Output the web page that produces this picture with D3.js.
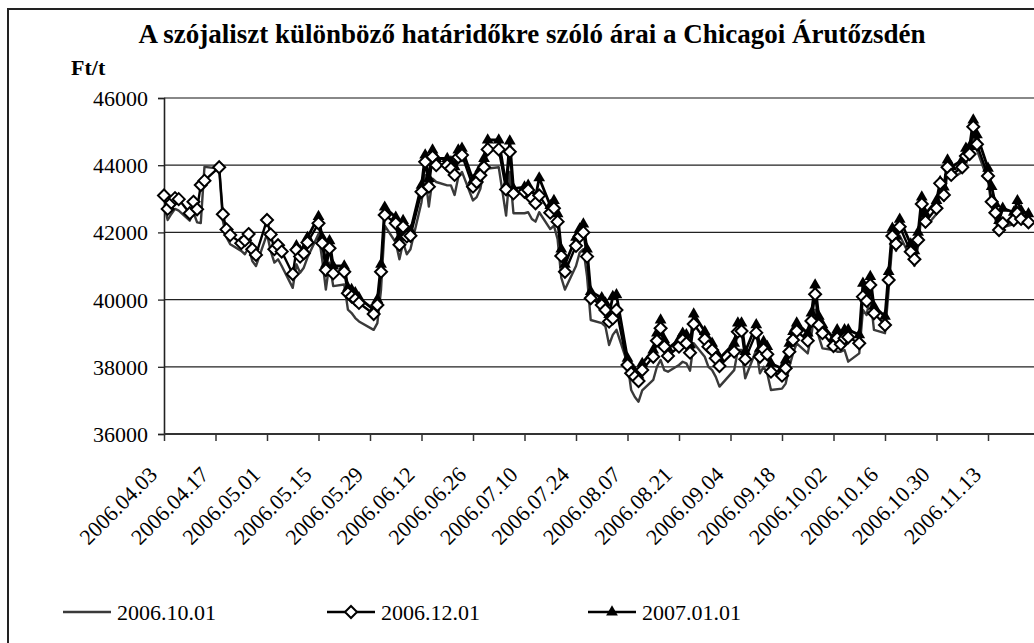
<!DOCTYPE html>
<html><head><meta charset="utf-8">
<script src="https://cdn.jsdelivr.net/npm/d3@7"></script>
<style>body{margin:0;background:#fff}svg{display:block}text{font-family:"Liberation Serif","Times New Roman",serif}</style>
</head><body><svg id="c" width="1034" height="643"></svg>
<script>
const dates = [
"2006-04-03","2006-04-04","2006-04-05","2006-04-06","2006-04-07",
"2006-04-10","2006-04-11","2006-04-12","2006-04-13","2006-04-14",
"2006-04-18","2006-04-19","2006-04-20","2006-04-21",
"2006-04-24","2006-04-25","2006-04-26","2006-04-27","2006-04-28",
"2006-05-01","2006-05-02","2006-05-03","2006-05-04","2006-05-05",
"2006-05-08","2006-05-09","2006-05-10","2006-05-11","2006-05-12",
"2006-05-15","2006-05-16","2006-05-17","2006-05-18","2006-05-19",
"2006-05-22","2006-05-23","2006-05-24","2006-05-25","2006-05-26",
"2006-05-30","2006-05-31","2006-06-01","2006-06-02",
"2006-06-05","2006-06-06","2006-06-07","2006-06-08","2006-06-09",
"2006-06-12","2006-06-13","2006-06-14","2006-06-15","2006-06-16",
"2006-06-19","2006-06-20","2006-06-21","2006-06-22","2006-06-23",
"2006-06-26","2006-06-27","2006-06-28","2006-06-29","2006-06-30",
"2006-07-03","2006-07-05","2006-07-06","2006-07-07",
"2006-07-10","2006-07-11","2006-07-12","2006-07-13","2006-07-14",
"2006-07-17","2006-07-18","2006-07-19","2006-07-20","2006-07-21",
"2006-07-24","2006-07-25","2006-07-26","2006-07-27","2006-07-28",
"2006-07-31","2006-08-01","2006-08-02","2006-08-03","2006-08-04",
"2006-08-07","2006-08-08","2006-08-09","2006-08-10","2006-08-11",
"2006-08-14","2006-08-15","2006-08-16","2006-08-17","2006-08-18",
"2006-08-21","2006-08-22","2006-08-23","2006-08-24","2006-08-25",
"2006-08-28","2006-08-29","2006-08-30","2006-08-31","2006-09-01",
"2006-09-05","2006-09-06","2006-09-07","2006-09-08",
"2006-09-11","2006-09-12","2006-09-13","2006-09-14","2006-09-15",
"2006-09-18","2006-09-19","2006-09-20","2006-09-21","2006-09-22",
"2006-09-25","2006-09-26","2006-09-27","2006-09-28","2006-09-29",
"2006-10-02","2006-10-03","2006-10-04","2006-10-05","2006-10-06",
"2006-10-09","2006-10-10","2006-10-11","2006-10-12","2006-10-13",
"2006-10-16","2006-10-17","2006-10-18","2006-10-19","2006-10-20",
"2006-10-23","2006-10-24","2006-10-25","2006-10-26","2006-10-27",
"2006-10-30","2006-10-31","2006-11-01","2006-11-02","2006-11-03",
"2006-11-06","2006-11-07","2006-11-08","2006-11-09","2006-11-10",
"2006-11-13","2006-11-14","2006-11-15","2006-11-16","2006-11-17",
"2006-11-20","2006-11-21","2006-11-22","2006-11-24"
];
const oct = [
42800,42370,42550,42700,42650,
42350,42600,42300,42280,43950,
43900,42350,41850,41650,
41450,41350,41550,41150,41000,
41950,41450,41100,41200,41000,
40350,41050,40800,40950,41250,
41950,41200,40300,41100,40400,
40450,39700,39600,39450,39350,
39100,39300,40300,42200,
41700,41200,41700,41350,41500,
42900,43700,42770,43600,43500,
43400,43400,43113,43650,43800,
42950,43050,43300,43900,43900,
43938,42500,43800,42570,
42570,42600,42400,42320,42600,
42100,42200,41800,40650,40300,
41000,41400,41500,40700,39393,
39300,39200,38650,38950,39100,
38105,37310,37100,36962,37300,
37608,38000,38203,37900,37855,
38054,38150,38105,37884,38700,
38300,38000,37900,37700,37410,
37900,38500,38500,37658,
38500,37807,38000,37800,37310,
37350,37500,38000,38400,38700,
38400,38950,39700,38900,38550,
38500,38450,38450,38500,38153,
38400,39690,39540,40100,39100,
39000,40300,41700,41450,41900,
41250,41000,41600,42600,42150,
42550,43300,42950,43800,43600,
43800,44150,44200,44950,44450,
43550,42750,42400,41950,42150,
42250,42450,42300,42200
];
const dec = [
43100,42700,42880,43020,42990,
42570,42910,42690,43410,43540,
43940,42540,42090,41920,
41680,41770,41950,41500,41330,
42370,41940,41500,41620,41430,
40760,41480,41280,41380,41700,
42270,41680,40880,41530,40780,
40830,40190,40090,40010,39900,
39570,39840,40830,42520,
42270,41630,42170,41880,41900,
43210,44100,43360,44250,44000,
44000,43900,43710,44235,44300,
43360,43500,43700,43940,44470,
44470,43280,44400,43160,
43210,43260,43015,42866,43100,
42586,42717,42320,41300,40830,
41600,41880,42000,41280,40040,
39840,39690,39345,39440,39690,
38054,37807,37700,37578,37905,
38300,38777,39145,38600,38322,
38600,38800,38700,38420,39273,
38820,38600,38500,38253,38024,
38450,39045,39065,38223,
39016,38300,38520,38372,37855,
37736,37956,38450,38800,39065,
38777,39364,40158,39245,39000,
38620,38850,38670,38850,38878,
38700,40088,39960,40435,39593,
39245,40584,41893,41655,42170,
41426,41200,41774,42845,42320,
42717,43460,43113,43938,43710,
43938,44274,44333,45146,44622,
43679,42914,42586,42072,42270,
42370,42570,42400,42300
];
const jan = [
null,null,null,null,null,
null,null,null,null,null,
null,null,null,null,
null,null,null,null,null,
null,null,null,null,null,
null,41600,41450,41500,41850,
42470,41850,41050,41750,41000,
41000,40350,40300,40200,40050,
39700,40000,41050,42750,
42450,41850,42350,42050,42050,
43400,44300,43600,44450,44200,
44200,44100,43950,44450,44500,
43550,43700,43900,44200,44750,
44750,43400,44720,43300,
43350,43400,43150,43050,43620,
42800,42950,42550,41500,41050,
41850,42100,42250,41500,40240,
40050,39900,39550,40088,40140,
38250,38000,37850,37750,38100,
38500,39000,39393,38800,38550,
38800,39000,38950,38650,39572,
39050,38800,38700,38450,38250,
38700,39300,39300,38450,
39250,38550,38750,38600,38100,
37950,38200,38700,39050,39300,
39000,39600,40435,39500,39250,
38850,39100,38900,39100,39100,
38950,40485,40200,40683,39800,
39500,40830,42122,41900,42390,
41650,41450,42000,43050,42550,
42950,43510,43350,44150,43950,
44150,44500,44550,45345,44900,
43908,43360,42850,42350,42717,
42600,42944,42650,42550
];
const yTicks = [36000,38000,40000,42000,44000,46000];
const xTickDates = ["2006-04-03","2006-04-17","2006-05-01","2006-05-15","2006-05-29","2006-06-12","2006-06-26","2006-07-10","2006-07-24","2006-08-07","2006-08-21","2006-09-04","2006-09-18","2006-10-02","2006-10-16","2006-10-30","2006-11-13"];
const seriesNames = ["2006.10.01","2006.12.01","2007.01.01"];
const titleText = "A szójaliszt különböző határidőkre szóló árai a Chicagoi Árutőzsdén";
const unitText = "Ft/t";

const parse = d3.timeParse("%Y-%m-%d");
const fmt = d3.timeFormat("%Y.%m.%d");
const svg = d3.select("#c");
svg.append("rect").attr("width",1034).attr("height",643).attr("fill","#fff");
svg.append("rect").attr("x",8).attr("y",9).attr("width",1100).attr("height",700)
  .attr("fill","none").attr("stroke","#222").attr("stroke-width",2);

const x = d3.scaleTime().domain([parse("2006-04-03"), parse("2006-11-13")]).range([164, 988]);
const y = d3.scaleLinear().domain([36000, 46000]).range([434, 98]);

svg.append("g").selectAll("line").data(yTicks).join("line")
  .attr("x1",164).attr("x2",1040).attr("y1",d=>y(d)).attr("y2",d=>y(d))
  .attr("stroke",d=>d===46000?"#888":"#222").attr("stroke-width",d=>d===46000?2.2:1.3);

const ya = svg.append("g").attr("transform","translate(164,0)")
  .call(d3.axisLeft(y).tickValues(yTicks).tickSize(6).tickPadding(10).tickFormat(d3.format("d")));
ya.attr("font-family",null);
ya.select(".domain").attr("stroke","#222").attr("stroke-width",1.6);
ya.selectAll(".tick line").attr("stroke","#222").attr("stroke-width",1.3);
ya.selectAll("text").attr("font-size",22).attr("fill","#000").attr("dy","0.34em");

const xa = svg.append("g").attr("transform","translate(0,434)")
  .call(d3.axisBottom(x).tickValues(xTickDates.map(parse)).tickSize(7).tickFormat(fmt));
xa.attr("font-family",null);
xa.select(".domain").attr("stroke","#333").attr("stroke-width",2.2).attr("d","M164,0H1040");
xa.selectAll(".tick line").attr("stroke","#333").attr("stroke-width",1.5);
xa.selectAll("text").attr("font-size",22).attr("fill","#000")
  .attr("text-anchor","end").attr("dy",0).attr("y",0)
  .attr("transform","translate(-6,42) rotate(-45)");

const rows = dates.map((d,i)=>({date:parse(d), oct:oct[i], dec:dec[i], jan:jan[i]}));
const lineFor = key => d3.line().defined(r=>r[key]!=null).x(r=>x(r.date)).y(r=>y(r[key]));

svg.append("path").datum(rows).attr("d",lineFor("oct")).attr("fill","none")
  .attr("stroke","#3a3a3a").attr("stroke-width",2.4).attr("stroke-linejoin","round");
svg.append("path").datum(rows).attr("d",lineFor("jan")).attr("fill","none")
  .attr("stroke","#000").attr("stroke-width",2.8).attr("stroke-linejoin","round");
const tri = d3.symbol().type(d3.symbolTriangle).size(60);
svg.append("g").selectAll("path").data(rows.filter(r=>r.jan!=null)).join("path")
  .attr("d",tri).attr("transform",r=>`translate(${x(r.date)},${y(r.jan)})`).attr("fill","#000");
svg.append("path").datum(rows).attr("d",lineFor("dec")).attr("fill","none")
  .attr("stroke","#000").attr("stroke-width",2.4).attr("stroke-linejoin","round");
const dia = "M0,-6L6,0L0,6L-6,0Z";
svg.append("g").selectAll("path").data(rows).join("path")
  .attr("d",dia).attr("transform",r=>`translate(${x(r.date)},${y(r.dec)})`)
  .attr("fill","#fff").attr("stroke","#000").attr("stroke-width",2);

svg.append("text").attr("x",532).attr("y",43).attr("text-anchor","middle")
  .attr("font-size",27).attr("font-weight","bold").text(titleText);
svg.append("text").attr("x",71).attr("y",75).attr("font-size",22).attr("font-weight","bold").text(unitText);

const lg = svg.append("g");
const legY = 612;
const items = [{x:63, name:seriesNames[0], mark:null, color:"#3a3a3a"},
               {x:327, name:seriesNames[1], mark:"dia", color:"#000"},
               {x:588, name:seriesNames[2], mark:"tri", color:"#000"}];
items.forEach(it=>{
  lg.append("line").attr("x1",it.x).attr("x2",it.x+48).attr("y1",legY).attr("y2",legY)
    .attr("stroke",it.color).attr("stroke-width",2.4);
  if(it.mark==="dia") lg.append("path").attr("d",dia).attr("transform",`translate(${it.x+24},${legY})`)
    .attr("fill","#fff").attr("stroke","#000").attr("stroke-width",2);
  if(it.mark==="tri") lg.append("path").attr("d",tri).attr("transform",`translate(${it.x+24},${legY})`).attr("fill","#000");
  lg.append("text").attr("x",it.x+54).attr("y",legY).attr("dy","0.35em").attr("font-size",22).text(it.name);
});
</script></body></html>
